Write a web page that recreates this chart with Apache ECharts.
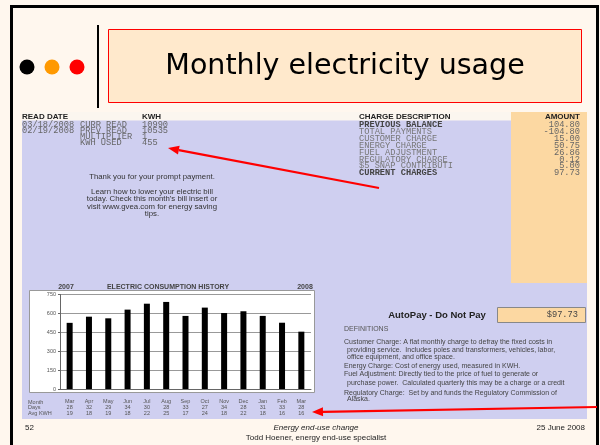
<!DOCTYPE html>
<html><head><meta charset="utf-8">
<script src="https://cdn.jsdelivr.net/npm/echarts@6/dist/echarts.min.js"></script>
<style>html,body{margin:0;padding:0;background:#FFF7EE}#c{width:600px;height:445px}</style>
</head><body><div id="c"></div>
<script>
// ---- data ----
const months = ['Mar','Apr','May','Jun','Jul','Aug','Sep','Oct','Nov','Dec','Jan','Feb','Mar'];
const days   = [28,32,29,34,30,28,33,27,34,28,31,33,28];
const avgKwh = [19,18,19,18,22,25,17,24,18,22,18,16,16];
const kwh    = [525,574,561,630,677,691,580,646,603,617,580,526,455];
const yMax = 750, yStep = 150;

const readDates  = ['03/18/2008','02/19/2008','',''];
const readLabels = ['CURR READ','PREV READ','MULTIPLIER','KWH USED'];
const readValues = ['10990','10535','1','455'];
const chargeDesc = ['PREVIOUS BALANCE','TOTAL PAYMENTS','CUSTOMER CHARGE','ENERGY CHARGE','FUEL ADJUSTMENT','REGULATORY CHARGE','$5 SNAP CONTRIBUTI','CURRENT CHARGES'];
const chargeAmt  = ['104.80','-104.80','15.00','50.75','26.86','0.12','5.00','97.73'];
const thanks = ['Thank you for your prompt payment.','','Learn how to lower your electric bill','today. Check this month\'s bill insert or','visit www.gvea.com for energy saving','tips.'];
const defs = [
  ['Customer Charge: A flat monthly charge to defray the fixed costs in',0],
  ['providing service.  Includes poles and transformers, vehicles, labor,',1],
  ['office equipment, and office space.',1],
  ['Energy Charge: Cost of energy used, measured in KWH.',0],
  ['Fuel Adjustment: Directly tied to the price of fuel to generate or',0],
  ['purchase power.  Calculated quarterly this may be a charge or a credit',1],
  ['Regulatory Charge:  Set by and funds the Regulatory Commission of',0],
  ['Alaska.',1]
];

// ---- helpers ----
function txt(t, x, y, font, fill, align, extra){
  return Object.assign({type:'text', z:50, style:{text:t, x:x, y:y, font:font, fill:fill,
    textAlign:align||'left', align:align||'left', textVerticalAlign:'middle', verticalAlign:'middle'}}, extra||{});
}
function arrow(tip, tail){
  const dx = tail[0]-tip[0], dy = tail[1]-tip[1], L = Math.hypot(dx,dy);
  const ux = dx/L, uy = dy/L, hl = 11, hw = 4.5;
  const bx = tip[0]+ux*hl, by = tip[1]+uy*hl;
  return [
    {type:'polyline', z:60, shape:{points:[[bx,by],tail]}, style:{stroke:'#FF0000', lineWidth:2.2, fill:null}},
    {type:'polygon', z:60, shape:{points:[tip,[bx-uy*hw,by+ux*hw],[bx+uy*hw,by-ux*hw]]}, style:{fill:'#FF0000'}}
  ];
}

const mono = "8.7px 'Liberation Mono', monospace";
const g = [];
// frame & background
g.push({type:'rect', z:-20, shape:{x:11.5,y:6.5,width:586,height:460}, style:{fill:'#FFF7EE', stroke:'#000', lineWidth:3}});
// dots
[['#000',27],['#FF9900',52],['#FF0000',77]].forEach(d=>g.push({type:'circle', z:5, shape:{cx:d[1],cy:67,r:7.5}, style:{fill:d[0]}}));
g.push({type:'line', z:5, shape:{x1:98,y1:25,x2:98,y2:108}, style:{stroke:'#000', lineWidth:2}});
// title box
g.push({type:'rect', z:5, shape:{x:108.5,y:29.5,width:473,height:73}, style:{fill:'#FFE9CC', stroke:'#FF0000', lineWidth:1}});
g.push(txt('Monthly electricity usage', 345, 67, "28.5px 'DejaVu Sans', sans-serif", '#000', 'center'));
// bill background
g.push({type:'rect', z:-15, shape:{x:22,y:112,width:565,height:307}, style:{fill:'#CFCFF0'}});
g.push({type:'rect', z:-14, shape:{x:22,y:112,width:565,height:8.5}, style:{fill:'#FBF6EF'}});
g.push({type:'rect', z:-13, shape:{x:511,y:112,width:76,height:171}, style:{fill:'#FCD8A2'}});
// headers
g.push(txt('READ DATE', 22, 116.5, "bold 8px 'Liberation Sans', sans-serif", '#222'));
g.push(txt('KWH', 142, 116.5, "bold 8px 'Liberation Sans', sans-serif", '#222'));
g.push(txt('CHARGE DESCRIPTION', 359, 116.5, "bold 8px 'Liberation Sans', sans-serif", '#222'));
g.push(txt('AMOUNT', 580, 116.5, "bold 8px 'Liberation Sans', sans-serif", '#222', 'right'));
// meter reads
readLabels.forEach((l,i)=>{
  const y = 125 + i*6;
  if (readDates[i]) g.push(txt(readDates[i], 22, y, mono, '#666'));
  g.push(txt(l, 80, y, mono, '#666'));
  g.push(txt(readValues[i], 142, y, mono, '#666'));
});
chargeDesc.forEach((l,i)=>{
  const y = 125 + i*6.85;
  const bold = (i===0 || i===chargeDesc.length-1);
  g.push(txt(l, 359, y, (bold?'bold ':'')+mono, bold?'#444':'#777'));
  g.push(txt(chargeAmt[i], 580, y, mono, '#666', 'right'));
});
thanks.forEach((l,i)=>{ if(l) g.push(txt(l, 152, 177 + i*7.4, "7.8px 'Liberation Sans', sans-serif", '#333', 'center')); });
// chart box & headings
g.push({type:'rect', z:-10, shape:{x:29.5,y:290.5,width:285,height:102}, style:{fill:'#FFFFFF', stroke:'#999', lineWidth:1}});
g.push(txt('2007', 66, 287, "bold 7px 'Liberation Sans', sans-serif", '#444', 'center'));
g.push(txt('ELECTRIC CONSUMPTION HISTORY', 168, 287, "bold 7px 'Liberation Sans', sans-serif", '#444', 'center'));
g.push(txt('2008', 305, 287, "bold 7px 'Liberation Sans', sans-serif", '#444', 'center'));
g.push(txt('Month', 28, 402, "5.5px 'Liberation Sans', sans-serif", '#555'));
g.push(txt('Days', 28, 407.7, "5.5px 'Liberation Sans', sans-serif", '#555'));
g.push(txt('Avg KWH', 28, 413.3, "5.5px 'Liberation Sans', sans-serif", '#555'));
// autopay
g.push(txt('AutoPay - Do Not Pay', 437, 315, "bold 9.5px 'Liberation Sans', sans-serif", '#222', 'center'));
g.push({type:'rect', z:5, shape:{x:497.5,y:307.5,width:88,height:15}, style:{fill:'#FCD8A2', stroke:'#888', lineWidth:1}});
g.push(txt('$97.73', 578, 315, mono, '#444', 'right'));
g.push(txt('DEFINITIONS', 344, 329, "7px 'Liberation Sans', sans-serif", '#555'));
const defY = [342.3,350,357.3,365.7,374,382.7,392.7,399.3];
defs.forEach((d,i)=>g.push(txt(d[0], d[1]?347:344, defY[i], "7px 'Liberation Sans', sans-serif", '#444')));
g.push({type:'rect', z:55, shape:{x:587,y:380,width:7,height:10}, style:{fill:'#FFF7EE'}});
// footer
g.push(txt('52', 25, 428, "8px 'Liberation Sans', sans-serif", '#222'));
g.push(txt('Energy end-use change', 316, 428, "italic 8px 'Liberation Sans', sans-serif", '#222', 'center'));
g.push(txt('Todd Hoener, energy end-use specialist', 316, 437.5, "8px 'Liberation Sans', sans-serif", '#222', 'center'));
g.push(txt('25 June 2008', 585, 428, "8px 'Liberation Sans', sans-serif", '#222', 'right'));
// arrows
arrow([168,148],[379,188]).forEach(e=>g.push(e));
arrow([312,412],[597,407]).forEach(e=>g.push(e));

const chart = echarts.init(document.getElementById('c'), null, {renderer:'canvas'});
chart.setOption({
  animation:false,
  backgroundColor:'#FFF7EE',
  graphic:{elements:g},
  grid:{left:60, top:294.5, width:251, height:94.5, containLabel:false},
  xAxis:{type:'category', data:months, boundaryGap:true,
    axisLine:{show:true, lineStyle:{color:'#666', width:1}}, axisTick:{show:false},
    axisLabel:{interval:0, margin:10, fontSize:5.5, lineHeight:5.7, color:'#555', fontFamily:'Liberation Sans',
      formatter:(v,i)=> v + '\n' + days[i] + '\n' + avgKwh[i]}},
  yAxis:{type:'value', min:0, max:yMax, interval:yStep,
    axisLine:{show:true, lineStyle:{color:'#666', width:1}}, axisTick:{show:true, length:2, lineStyle:{color:'#666'}},
    axisLabel:{fontSize:5.5, color:'#555', margin:4, fontFamily:'Liberation Sans'},
    splitLine:{show:true, lineStyle:{color:'#999', width:1}}},
  series:[{type:'bar', data:kwh, barWidth:6, itemStyle:{color:'#000'}, z:3}]
});
</script></body></html>
